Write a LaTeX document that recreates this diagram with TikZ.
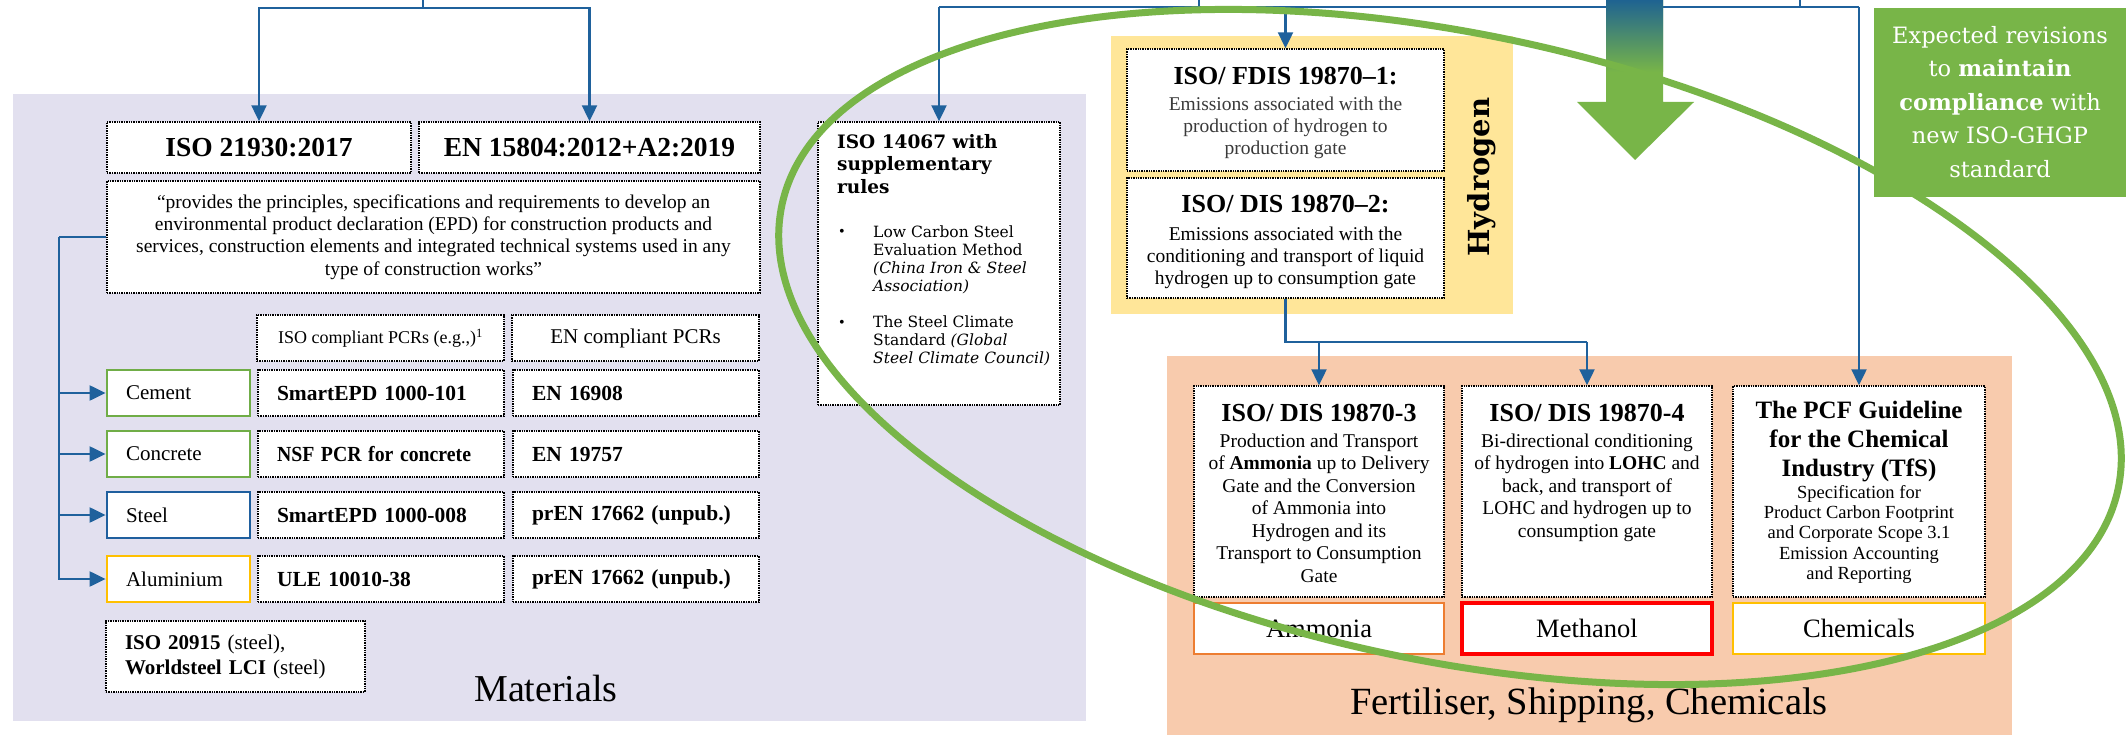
\documentclass[tikz,border=0pt]{standalone}
\usepackage{fontspec}
\setmainfont{Liberation Serif}
\newfontfamily\wideserif{DejaVu Serif}
\usetikzlibrary{arrows.meta}
\definecolor{matbg}{HTML}{E2E0EF}
\definecolor{hydbg}{HTML}{FFE699}
\definecolor{ferbg}{HTML}{F8CBAD}
\definecolor{lnblue}{HTML}{1F619C}
\definecolor{grn}{HTML}{78B548}
\definecolor{cgreen}{HTML}{70AD47}
\definecolor{cyellow}{HTML}{FFC000}
\definecolor{corange}{HTML}{ED7D31}
\definecolor{cred}{HTML}{FF0000}
\definecolor{cblue}{HTML}{1F5F9E}
\definecolor{arrblue}{HTML}{1F6391}
\definecolor{subgray}{HTML}{3A3A3A}
\newcommand\fz[2]{\fontsize{#1}{#2}\selectfont}
\newcommand\sqz[2]{\scalebox{#1}[1]{#2}}
\begin{document}
\begin{tikzpicture}[x=1pt,y=-1pt,
  dotbox/.style={draw=black, densely dotted, line width=1.4pt, fill=white, inner sep=0pt},
  colbox/.style={draw=#1, line width=2.8pt, fill=white, inner sep=0pt},
  lbox/.style={inner xsep=19pt, inner ysep=0pt, align=left, minimum height=46pt},
  conn/.style={draw=lnblue, line width=2.2pt},
  arr/.style={conn, -{Triangle[length=16pt,width=15pt]}},
  txt/.style={inner sep=0pt},
]
\useasboundingbox (0,0) rectangle (2126,735);
\fill[white] (0,0) rectangle (2126,735);
% backgrounds
\fill[matbg] (13,94) rectangle (1086,721);
\fill[hydbg] (1111,36) rectangle (1513,314);
\fill[ferbg] (1167,356) rectangle (2012,735);

% ---------------- Materials ----------------
\node[dotbox, minimum width=304pt, minimum height=51pt, font=\bfseries\fz{27.5}{32}] (iso21930) at (259,147.5) {ISO 21930:2017};
\node[dotbox, minimum width=341pt, minimum height=51pt, font=\bfseries\fz{27.5}{32}] (en15804) at (589.5,147.5) {EN 15804:2012+A2:2019};
\node[dotbox, minimum width=653pt, minimum height=112pt, align=center, font=\fz{19.5}{22.4}] (quote) at (433.5,237)
 {“provides the principles, specifications and requirements to develop an\\ environmental product declaration (EPD) for construction products and\\ services, construction elements and integrated technical systems used in any\\ type of construction works”};
\node[dotbox, minimum width=247pt, minimum height=46pt, font=\fz{18}{21}] (isopcr) at (380.5,338) {ISO compliant PCRs (e.g.,)\textsuperscript{1}};
\node[dotbox, minimum width=247pt, minimum height=46pt, font=\fz{21}{24}] (enpcr) at (635.5,338) {EN compliant PCRs};

\node[colbox=cgreen, lbox, text width=105pt, font=\fz{21}{24}] (cement) at (178.5,393) {Cement};
\node[colbox=cgreen, lbox, text width=105pt, font=\fz{21}{24}] (concrete) at (178.5,454) {Concrete};
\node[colbox=cblue, lbox, text width=105pt, font=\fz{21}{24}] (steel) at (178.5,515) {Steel};
\node[colbox=cyellow, lbox, text width=105pt, font=\fz{21}{24}] (aluminium) at (178.5,579) {Aluminium};

\node[dotbox, lbox, text width=208pt, font=\bfseries\fz{21.5}{24}] (smart1) at (381,393) {SmartEPD 1000-101};
\node[dotbox, lbox, text width=208pt, font=\bfseries\fz{21.5}{24}] (nsf) at (381,454) {\sqz{0.92}{NSF PCR for concrete}};
\node[dotbox, lbox, text width=208pt, font=\bfseries\fz{21.5}{24}] (smart2) at (381,515) {SmartEPD 1000-008};
\node[dotbox, lbox, text width=208pt, font=\bfseries\fz{21.5}{24}] (ule) at (381,579) {ULE 10010-38};

\node[dotbox, lbox, text width=208pt, font=\bfseries\fz{21.5}{24}] (en16908) at (636,393) {EN 16908};
\node[dotbox, lbox, text width=208pt, font=\bfseries\fz{21.5}{24}] (en19757) at (636,454) {EN 19757};
\node[dotbox, lbox, text width=208pt, font=\bfseries\fz{21.5}{24}] (pren1) at (636,515) {prEN 17662 (unpub.)};
\node[dotbox, lbox, text width=208pt, font=\bfseries\fz{21.5}{24}] (pren2) at (636,579) {prEN 17662 (unpub.)};

\node[dotbox, lbox, minimum height=71pt, text width=221pt, font=\fz{21}{25}] (iso20915) at (235.5,656.5) {\textbf{ISO 20915} (steel),\\ \textbf{Worldsteel LCI} (steel)};
\node[txt, font=\fz{38}{42}] (matlabel) at (546,688) {Materials};

% ---------------- ISO 14067 ----------------
\node[dotbox, minimum width=242pt, minimum height=283pt] (iso14067) at (939,263.5) {};
\node[txt, anchor=north west, align=left, font=\wideserif\bfseries\fz{18.5}{22.5}] (t14067) at (837,132.25) {\strut ISO 14067 with\\supplementary\\rules};
\node[txt, anchor=base, font=\fz{16}{18}] (bul1) at (842,237) {•};
\node[txt, anchor=base, font=\fz{16}{18}] (bul2) at (842,327) {•};
\node[txt, anchor=north west, align=left, font=\wideserif\fz{15.5}{18}] (bt1) at (873,224.4) {\strut Low Carbon Steel\\Evaluation Method\\\textit{(China Iron \& Steel}\\\textit{Association)}};
\node[txt, anchor=north west, align=left, font=\wideserif\fz{15.5}{18}] (bt2) at (873,314.4) {\strut The Steel Climate\\Standard \textit{(Global}\\\textit{Steel Climate Council)}};

% ---------------- Hydrogen ----------------
\node[dotbox, minimum width=317pt, minimum height=122pt] (fdis1) at (1285.5,110) {};
\node[dotbox, minimum width=317pt, minimum height=120pt] (dis2) at (1285.5,238) {};
\node[txt, anchor=base, font=\bfseries\fz{26}{30}] (tfdis1) at (1285.5,85) {ISO/ FDIS 19870–1:};
\node[txt, anchor=north, align=center, text=subgray, font=\fz{19.5}{22}] (sfdis1) at (1285.5,94.6) {\strut Emissions associated with the\\production of hydrogen to\\production gate};
\node[txt, anchor=base, font=\bfseries\fz{26}{30}] (tdis2) at (1285.5,213) {ISO/ DIS 19870–2:};
\node[txt, anchor=north, align=center, font=\fz{19.5}{22}] (sdis2) at (1285.5,224.6) {\strut Emissions associated with the\\conditioning and transport of liquid\\hydrogen up to consumption gate};
\node[txt, rotate=90, font=\wideserif\bfseries\fz{29}{32}] (hlabel) at (1482,177) {Hydrogen};

% ---------------- Fertiliser ----------------
\node[dotbox, minimum width=250pt, minimum height=211pt] (dis3) at (1319,491.5) {};
\node[dotbox, minimum width=250pt, minimum height=211pt] (dis4) at (1587,491.5) {};
\node[dotbox, minimum width=252pt, minimum height=211pt] (tfs) at (1859,491.5) {};
\node[txt, anchor=base, font=\bfseries\fz{26}{30}] (tdis3) at (1319,421) {ISO/ DIS 19870-3};
\node[txt, anchor=north, align=center, font=\fz{19.5}{22.5}] (sdis3) at (1319,431.25) {\strut Production and Transport\\of \textbf{Ammonia} up to Delivery\\Gate and the Conversion\\of Ammonia into\\Hydrogen and its\\Transport to Consumption\\Gate};
\node[txt, anchor=base, font=\bfseries\fz{26}{30}] (tdis4) at (1587,421) {ISO/ DIS 19870-4};
\node[txt, anchor=north, align=center, font=\fz{19.5}{22.5}] (sdis4) at (1587,431.25) {\strut Bi-directional conditioning\\of hydrogen into \textbf{LOHC} and\\back, and transport of\\LOHC and hydrogen up to\\consumption gate};
\node[txt, anchor=north, align=center, font=\bfseries\fz{25}{29}] (ttfs) at (1859,397.7) {\strut The PCF Guideline\\for the Chemical\\Industry (TfS)};
\node[txt, anchor=north, align=center, font=\fz{18.5}{20.4}] (stfs) at (1859,483.7) {\strut Specification for\\Product Carbon Footprint\\and Corporate Scope 3.1\\Emission Accounting\\and Reporting};

\node[colbox=corange, minimum width=250pt, minimum height=51pt, font=\fz{26.5}{30}] (ammonia) at (1319,628.5) {Ammonia};
\node[colbox=cred, line width=3.5pt, minimum width=250pt, minimum height=51pt, font=\fz{26.5}{30}] (methanol) at (1587,628.5) {Methanol};
\node[colbox=cyellow, minimum width=252pt, minimum height=51pt, font=\fz{26.5}{30}] (chemicals) at (1859,628.5) {Chemicals};
\node[txt, font=\fz{38.5}{42}] (ferlabel) at (1589,705) {Fertiliser, Shipping, Chemicals};

% ---------------- connectors ----------------
\coordinate (topA) at (423,0);
\coordinate (junA) at (423,8);
\draw[conn] (topA) -- (junA);
\draw[arr] (junA) -| (iso21930.north);
\draw[arr] (junA) -| (en15804.north);

\coordinate (sideL) at (59,237);
\draw[conn] (quote.west) -- (sideL);
\draw[arr] (sideL) |- (cement.west);
\draw[arr] (sideL) |- (concrete.west);
\draw[arr] (sideL) |- (steel.west);
\draw[arr] (sideL) |- (aluminium.west);

\coordinate (busW) at (939,7);
\coordinate (busE) at (1859,7);
\coordinate (topB) at (1199,0);
\coordinate (topC) at (1800,0);
\draw[conn] (busW) -- (busE);
\draw[conn] (topB) -- (topB |- busW);
\draw[conn] (topC) -- (topC |- busW);
\draw[arr] (busW) -- (iso14067.north);
\draw[arr] (fdis1.north |- busW) -- (fdis1.north);
\draw[arr] (busE) -- (tfs.north);

\coordinate (hj) at (1285.5,342);
\draw[conn] (dis2.south) -- (hj) -- (dis4.north |- hj);
\draw[arr] (dis3.north |- hj) -- (dis3.north);
\draw[arr] (dis4.north |- hj) -- (dis4.north);

% ---------------- big arrow ----------------
\fill[grn] (1606,0) -- (1606,102) -- (1577,102) -- (1635,160) -- (1694,102) -- (1663,102) -- (1663,0) -- cycle;
\shade[top color=arrblue, bottom color=grn] (1606,0) rectangle (1663,72);

% ---------------- ellipse ----------------
\draw[grn, line width=7pt, rotate around={-12:(1450,347)}] (1450,347) ellipse [x radius=683pt, y radius=313pt];

% ---------------- green note ----------------
\node[fill=grn, inner sep=0pt, minimum width=252pt, minimum height=189pt] (gbox) at (2000,102.5) {};
\node[txt, anchor=north, align=center, text=white, font=\wideserif\fz{22.5}{33.5}] (gtext) at (2000,19.6) {\strut Expected revisions\\to \textbf{maintain}\\\textbf{compliance} with\\new ISO-GHGP\\standard};
\end{tikzpicture}
\end{document}
